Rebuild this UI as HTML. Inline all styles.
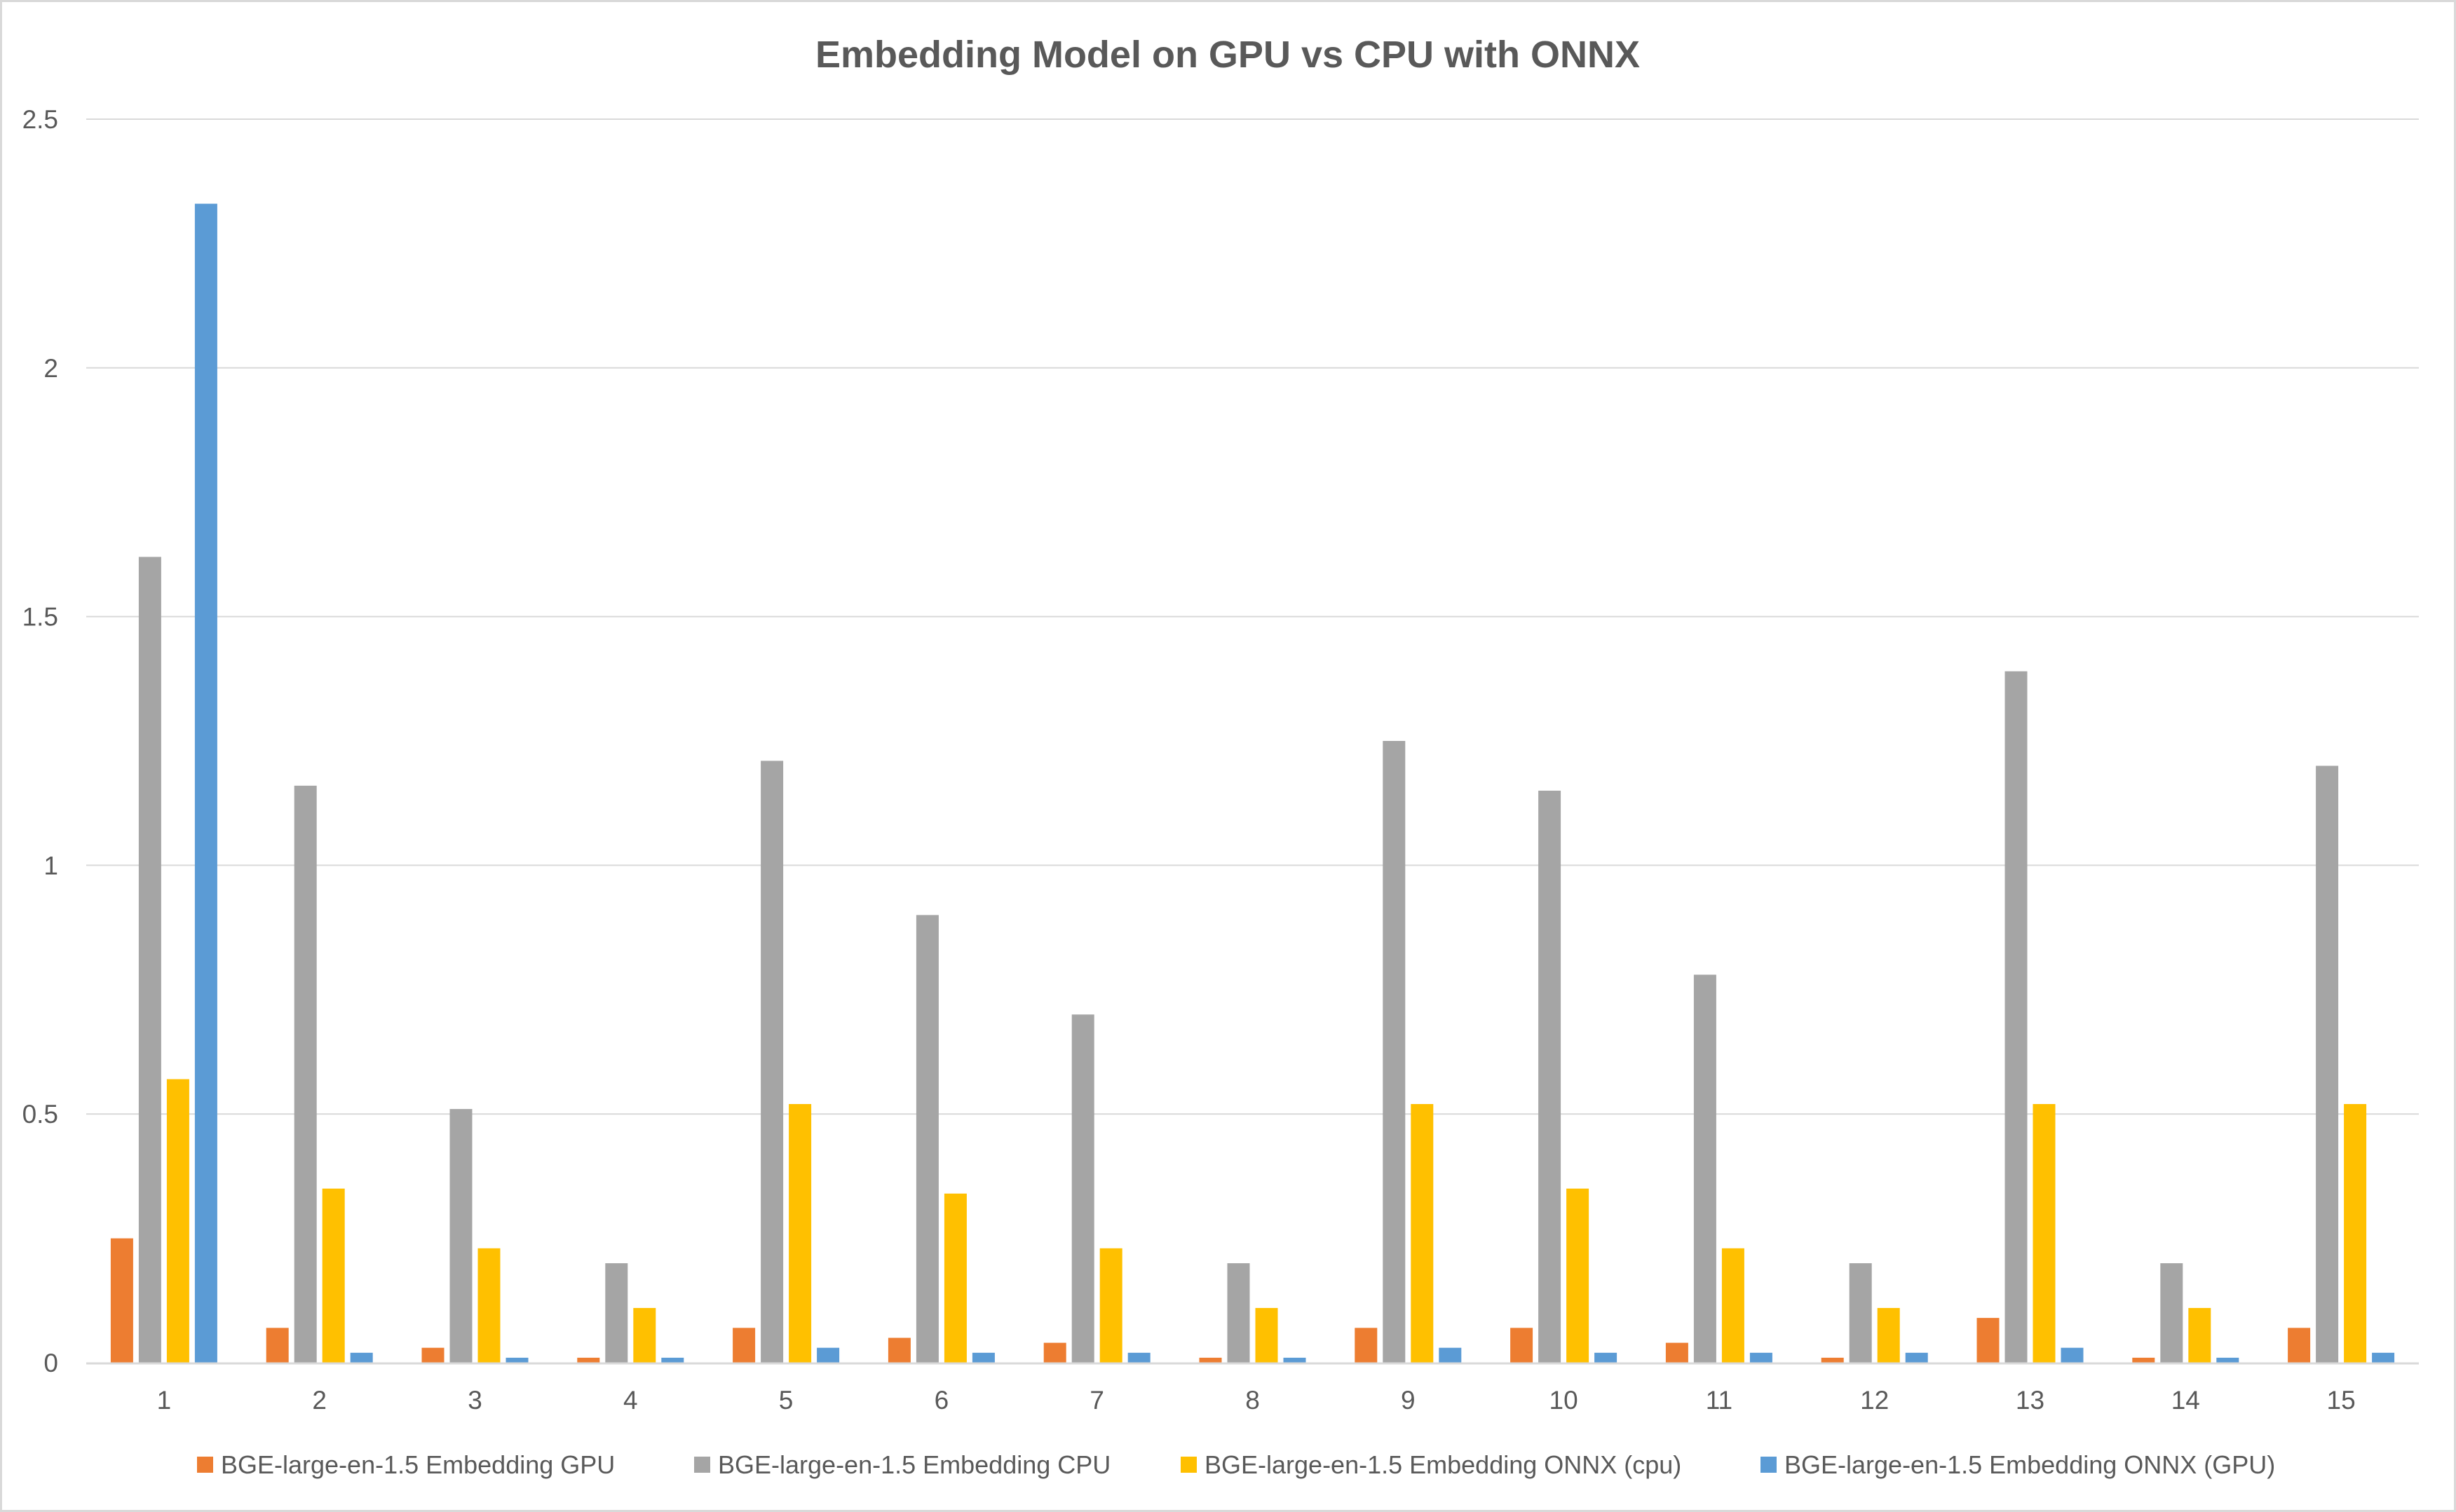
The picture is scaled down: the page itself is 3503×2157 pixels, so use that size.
<!DOCTYPE html>
<html><head><meta charset="utf-8"><style>
html,body{margin:0;padding:0;background:#fff;}
svg{display:block;font-family:"Liberation Sans",Calibri,sans-serif;}
</style></head><body>
<svg id="chart" width="3503" height="2157" viewBox="0 0 3503 2157" xmlns="http://www.w3.org/2000/svg">
<rect x="1.5" y="1.5" width="3500" height="2154" fill="#fff" stroke="#d9d9d9" stroke-width="3"/>
<text x="1751" y="96" text-anchor="middle" font-size="54" font-weight="bold" fill="#595959">Embedding Model on GPU vs CPU with ONNX</text>
<g id="grid"></g><g id="bars"></g><g id="axes"></g><g id="legend"></g>
</svg>
<script>
const categories=["1","2","3","4","5","6","7","8","9","10","11","12","13","14","15"];
const gpu=[0.25,0.07,0.03,0.01,0.07,0.05,0.04,0.01,0.07,0.07,0.04,0.01,0.09,0.01,0.07];
const cpu=[1.62,1.16,0.51,0.2,1.21,0.9,0.7,0.2,1.25,1.15,0.78,0.2,1.39,0.2,1.2];
const onnxCpu=[0.57,0.35,0.23,0.11,0.52,0.34,0.23,0.11,0.52,0.35,0.23,0.11,0.52,0.11,0.52];
const onnxGpu=[2.33,0.02,0.01,0.01,0.03,0.02,0.02,0.01,0.03,0.02,0.02,0.02,0.03,0.01,0.02];
const yTicks=[0,0.5,1,1.5,2,2.5];
const seriesNames=["BGE-large-en-1.5 Embedding GPU","BGE-large-en-1.5 Embedding CPU","BGE-large-en-1.5 Embedding ONNX (cpu)","BGE-large-en-1.5 Embedding ONNX (GPU)"];

const NS="http://www.w3.org/2000/svg";
const X0=123,X1=3450,Y0=1944,Y1=170,YMAX=2.5;
const colors=["#ed7d31","#a5a5a5","#ffc000","#5b9bd5"];
const series=[gpu,cpu,onnxCpu,onnxGpu];
const band=(X1-X0)/categories.length;
const bw=32,gap=8;
function y(v){return Y0-(v/YMAX)*(Y0-Y1);}
function xc(i){return X0+band*(i+0.5);}
function mk(tag,attrs,parent){const e=document.createElementNS(NS,tag);for(const k in attrs)e.setAttribute(k,attrs[k]);parent.appendChild(e);return e;}
const grid=document.getElementById('grid'),bars=document.getElementById('bars'),axes=document.getElementById('axes'),legend=document.getElementById('legend');
yTicks.forEach(t=>{
  if(t>0){const l=mk('line',{x1:X0,x2:X1,y1:y(t),y2:y(t),stroke:'#d9d9d9','stroke-width':2},grid);
  
  }
  const tx=mk('text',{x:83,y:y(t)+13,'text-anchor':'end','font-size':37,fill:'#595959'},axes);
  tx.textContent=String(t);
  
  
});
const groupW=series.length*bw+(series.length-1)*gap;
series.forEach((s,si)=>{
  s.forEach((v,i)=>{
    const bx=xc(i)-groupW/2+si*(bw+gap);
    const r=mk('rect',{x:bx,y:y(v),width:bw,height:Y0-y(v),fill:colors[si]},bars);
    
    
  });
});
const ax=mk('line',{x1:X0,x2:X1,y1:Y0+1,y2:Y0+1,stroke:'#d9d9d9','stroke-width':3},axes);


categories.forEach((c,i)=>{
  const t=mk('text',{x:xc(i),y:2010,'text-anchor':'middle','font-size':37,fill:'#595959'},axes);
  t.textContent=c;
  
  
});
const lx=[281,990,1684,2511];
seriesNames.forEach((n,i)=>{
  const g=mk('g',{},legend);
  
  
  mk('rect',{x:lx[i],y:2078,width:23,height:23,fill:colors[i]},g);
  const t=mk('text',{x:lx[i]+34,y:2102,'font-size':36,fill:'#595959'},g);
  t.textContent=n;
});
</script>
</body></html>
